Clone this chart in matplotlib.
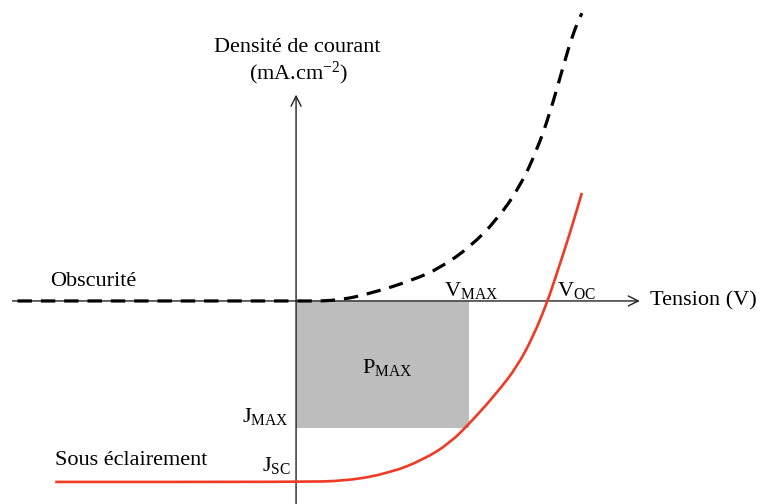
import numpy as np
import matplotlib
matplotlib.use("Agg")
import matplotlib.pyplot as plt
from matplotlib.path import Path
from matplotlib.patches import PathPatch

plt.rcParams["font.family"] = ["Liberation Serif", "DejaVu Serif"]
plt.rcParams["mathtext.fontset"] = "custom"
plt.rcParams["mathtext.rm"] = "Liberation Serif"
plt.rcParams["mathtext.it"] = "Liberation Serif:italic"

# courbe dans l'obscurité (tension, densité de courant), unités normalisées
v_dark = [-1.11, 0.0, 0.16, 0.305, 0.466, 0.574, 0.693, 0.80, 0.892, 0.96, 1.012, 1.064, 1.104, 1.139]
j_dark = [0.0, 0.0, 0.0, 0.044, 0.116, 0.182, 0.298, 0.448, 0.63, 0.834, 1.039, 1.293, 1.48, 1.59]

# courbe sous éclairement
v_light = [-0.96, 0.0, 0.203, 0.375, 0.506, 0.614, 0.705, 0.80, 0.88, 0.944, 1.0, 1.04, 1.092, 1.139]
j_light = [-1.0, -1.0, -0.995, -0.95, -0.878, -0.785, -0.657, -0.508, -0.365, -0.199, -0.011, 0.155, 0.376, 0.597]

v_max, j_max = 0.69, -0.70
v_oc, j_sc = 1.0, -1.0

x_axis = (-1.13, 1.37)
y_axis = (-1.13, 1.14)


def smooth_path(xs, ys):
    # courbes de Bézier quadratiques passant par les milieux des segments
    pts = np.column_stack([xs, ys])
    verts = [pts[0], (pts[0] + pts[1]) / 2]
    codes = [Path.MOVETO, Path.LINETO]
    for i in range(1, len(pts) - 1):
        verts += [pts[i], (pts[i] + pts[i + 1]) / 2]
        codes += [Path.CURVE3, Path.CURVE3]
    verts.append(pts[-1])
    codes.append(Path.LINETO)
    return Path(verts, codes)


fig = plt.figure(figsize=(7.6, 5.04), dpi=100)
ax = fig.add_axes([0, 0, 1, 1])
ax.set_xlim(-1.18, 1.849)
ax.set_ylim(-1.122, 1.663)
ax.axis("off")

# axes avec flèches
ax.annotate("", xy=(x_axis[1], 0), xytext=(x_axis[0], 0),
            arrowprops=dict(arrowstyle="->", color="#222222", lw=1.0,
                            mutation_scale=18, shrinkA=0, shrinkB=0))
ax.annotate("", xy=(0, y_axis[1]), xytext=(0, y_axis[0]),
            arrowprops=dict(arrowstyle="->", color="#222222", lw=1.0,
                            mutation_scale=18, shrinkA=0, shrinkB=0))

# rectangle de puissance max
ax.fill_between([0, v_max], [j_max, j_max], [0, 0], color="#bdbdbd", lw=0, zorder=1)

ax.add_patch(PathPatch(smooth_path(v_dark, j_dark), fill=False, edgecolor="black",
                       lw=2.3, ls=(0, (4.5, 2.8)), capstyle="butt", zorder=3))
ax.add_patch(PathPatch(smooth_path(v_light, j_light), fill=False, edgecolor="#ef3a26",
                       lw=1.9, zorder=3))

fs = 16
ax.text(0.005, 1.40, "Densité de courant", fontsize=fs, ha="center", va="center")
ax.text(0.01, 1.255, r"(mA.cm$^{\mathrm{-2}}$)", fontsize=fs, ha="center", va="center")
ax.text(1.41, 0.0, "Tension (V)", fontsize=fs, ha="left", va="center")
ax.text(-0.98, 0.11, "Obscurité", fontsize=fs, ha="left", va="center")
ax.text(-0.96, -0.88, "Sous éclairement", fontsize=fs, ha="left", va="center")
ax.text(v_max - 0.1, 0.06, r"V$_{\mathrm{MAX}}$", fontsize=fs, ha="left", va="center")
ax.text(v_oc + 0.04, 0.06, r"V$_{\mathrm{OC}}$", fontsize=fs, ha="left", va="center")
ax.text(v_max / 2 + 0.02, j_max / 2 - 0.02, r"P$_{\mathrm{MAX}}$", fontsize=fs, ha="center", va="center")
ax.text(-0.03, j_max + 0.06, r"J$_{\mathrm{MAX}}$", fontsize=fs, ha="right", va="center")
ax.text(-0.02, j_sc + 0.09, r"J$_{\mathrm{SC}}$", fontsize=fs, ha="right", va="center")

fig.savefig("out.png", dpi=100)
